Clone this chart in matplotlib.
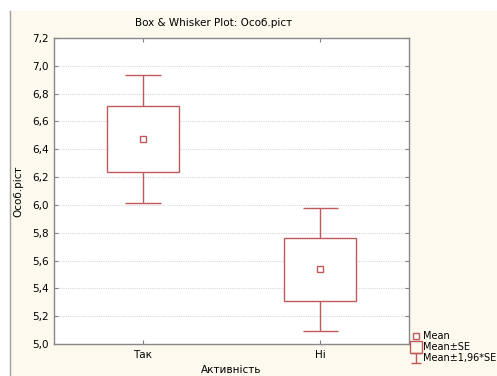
import matplotlib.pyplot as plt
from matplotlib.lines import Line2D
from matplotlib.patches import Rectangle
from matplotlib.path import Path
from matplotlib.ticker import FuncFormatter

# group means and standard errors
groups = ["Так", "Ні"]
means = [6.474, 5.538]
se = [0.236, 0.226]
yticks = [5.0, 5.2, 5.4, 5.6, 5.8, 6.0, 6.2, 6.4, 6.6, 6.8, 7.0, 7.2]

red = "#c0595b"
cream = "#fef9ee"
W, H = 497, 376

fig = plt.figure(figsize=(W / 100, H / 100), dpi=100)
fig.patch.set_facecolor("white")
# cream panel behind the plot
fig.patches.append(Rectangle((10 / W, 0), 1 - 10 / W, 1 - 11 / H, transform=fig.transFigure,
                             facecolor=cream, edgecolor="none", zorder=-2))
fig.add_artist(Line2D([10 / W, 10 / W], [0, 1 - 11 / H], transform=fig.transFigure,
                      color="#a0a0a0", lw=1))

ax = fig.add_axes([54 / W, (H - 344) / H, 355 / W, 306 / H])
ax.set_facecolor("white")

x = list(range(len(groups)))
lo = [m - 1.96 * s for m, s in zip(means, se)]
hi = [m + 1.96 * s for m, s in zip(means, se)]

# whiskers: mean +- 1.96*SE
ax.vlines(x, lo, hi, color=red, lw=1, zorder=2)
ax.hlines(lo, [i - 0.1 for i in x], [i + 0.1 for i in x], color=red, lw=1, zorder=2)
ax.hlines(hi, [i - 0.1 for i in x], [i + 0.1 for i in x], color=red, lw=1, zorder=2)
# boxes: mean +- SE
ax.bar(x, [2 * s for s in se], bottom=[m - s for m, s in zip(means, se)], width=0.405,
       facecolor="white", edgecolor=red, lw=1, zorder=3)
# mean points
ax.plot(x, means, ls="none", marker="s", ms=4, mfc="white", mec=red, mew=1, zorder=4)

ax.set_xlim(-0.5, 1.5)
ax.set_ylim(5.0, 7.2)
ax.set_xticks(x)
ax.set_xticklabels(groups)
ax.set_yticks(yticks)
ax.yaxis.set_major_formatter(FuncFormatter(lambda v, p: f"{v:.1f}".replace(".", ",")))
ax.tick_params(direction="in", length=3, labelsize=7.5, color="#808080",
               top=True, right=True, pad=4)
for ytk in yticks[1:-1]:
    ax.axhline(ytk, color="#d8d8d8", lw=0.8, ls=(0, (1, 1)), zorder=0)
for sp in ax.spines.values():
    sp.set_color("#888888")
    sp.set_linewidth(1)

ax.set_ylabel("Особ.ріст", fontsize=7.5, labelpad=6)
ax.set_xlabel("Активність", fontsize=7.5, labelpad=4)
fig.text(214 / W, 1 - 23 / H, "Box & Whisker Plot: Особ.ріст", ha="center", va="center",
         fontsize=7.5)

# legend
capmark = Path([(-1, 1), (1, 1), (0, 1), (0, -1), (-1, -1), (1, -1)],
               [Path.MOVETO, Path.LINETO, Path.MOVETO, Path.LINETO, Path.MOVETO, Path.LINETO])
handles = [
    Line2D([], [], ls="none", marker="s", ms=4, mfc="white", mec=red, mew=1),
    Line2D([], [], ls="none", marker="s", ms=8, mfc="none", mec=red, mew=1),
    Line2D([], [], ls="none", marker=capmark, ms=7, mec=red, mew=1),
]
fig.legend(handles, ["Mean", "Mean±SE", "Mean±1,96*SE"], loc="lower left",
           bbox_to_anchor=(412 / W, (H - 364) / H), frameon=False, fontsize=7,
           handlelength=0.7, handletextpad=0.3, labelspacing=0.1, borderpad=0.1,
           borderaxespad=0)

fig.savefig("out.png", dpi=100)
